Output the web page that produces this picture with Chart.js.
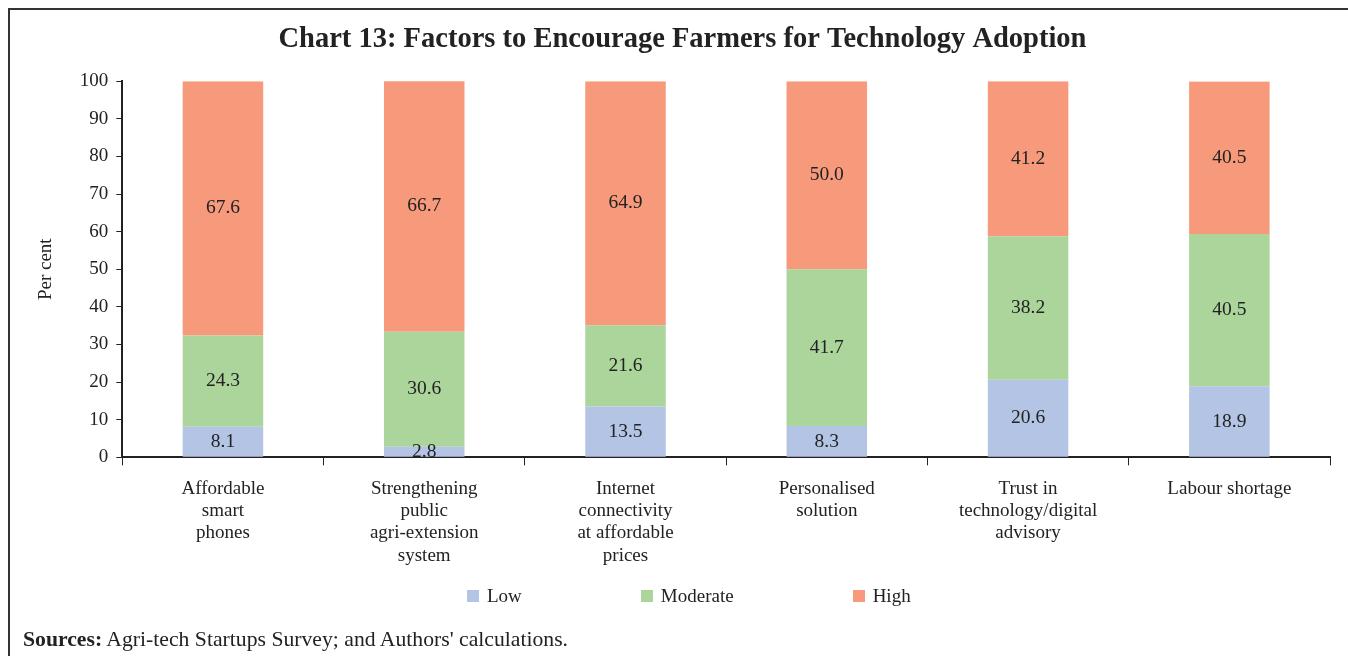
<!DOCTYPE html>
<html>
<head>
<meta charset="utf-8">
<script src="https://cdn.jsdelivr.net/npm/chart.js@4.4.1/dist/chart.umd.min.js"></script>
<style>
  html, body { margin: 0; padding: 0; background: #fff; }
  #frame { position: absolute; left: 8px; top: 8px; width: 1400px; height: 700px;
           border-left: 2px solid #333; border-top: 2px solid #333; }
  #wrap { position: absolute; left: 0; top: 0; width: 1348px; height: 656px; }
  #legend { position: absolute; left: 467px; top: 585px; display: flex;
            font: 19px "Liberation Serif", serif; color: #222; }
  #legend .item { display: flex; align-items: center; margin-right: 119px; }
  #legend .box { width: 12px; height: 12px; margin-right: 8px; }
  #src { position: absolute; left: 23px; top: 627px; font: 21.7px "Liberation Serif", serif; color: #222; }
</style>
</head>
<body>
<div id="frame"></div>
<div id="wrap"><canvas id="myChart" width="1348" height="656"></canvas></div>
<div id="legend"></div>
<div id="src"><b>Sources:</b> Agri-tech Startups Survey; and Authors' calculations.</div>
<script>
let categories = [
  ["Affordable", "smart", "phones"],
  ["Strengthening", "public", "agri-extension", "system"],
  ["Internet", "connectivity", "at affordable", "prices"],
  ["Personalised", "solution"],
  ["Trust in", "technology/digital", "advisory"],
  ["Labour shortage"],
];
let lowData = [8.1, 2.8, 13.5, 8.3, 20.6, 18.9];
let moderateData = [24.3, 30.6, 21.6, 41.7, 38.2, 40.5];
let highData = [67.6, 66.7, 64.9, 50.0, 41.2, 40.5];
let seriesNames = ["Low", "Moderate", "High"];
let seriesColors = ["#B4C4E4", "#ABD59B", "#F69A7B"];

const textColor = "#222";
const serif = "Liberation Serif";

// writes the value in the middle of each segment
const valueLabels = {
  id: "valueLabels",
  afterDatasetsDraw(chart) {
    const ctx = chart.ctx;
    ctx.save();
    ctx.font = '19.5px "' + serif + '"';
    ctx.fillStyle = textColor;
    ctx.textAlign = "center";
    ctx.textBaseline = "middle";
    chart.data.datasets.forEach((ds, i) => {
      chart.getDatasetMeta(i).data.forEach((bar, j) => {
        ctx.fillText(ds.data[j].toFixed(1), bar.x, (bar.y + bar.base) / 2);
      });
    });
    ctx.restore();
  },
};

let dataStats = {
  labels: categories,
  datasets: [lowData, moderateData, highData].map((d, i) => ({
    label: seriesNames[i],
    data: d,
    backgroundColor: seriesColors[i],
    borderWidth: 0,
    barPercentage: 0.4,
    categoryPercentage: 1,
  })),
};

let optionsOfStats = {
  responsive: false,
  animation: false,
  layout: { padding: { left: 35, right: 18, top: 0, bottom: 77 } },
  scales: {
    x: {
      stacked: true,
      grid: { offset: true, drawOnChartArea: false, drawTicks: true, tickLength: 8, color: textColor },
      border: { color: textColor, width: 2 },
      ticks: { color: textColor, padding: 12, maxRotation: 0, font: { family: serif, size: 19, lineHeight: 1.18 } },
    },
    y: {
      stacked: true,
      min: 0,
      max: 100,
      grid: { drawOnChartArea: false, drawTicks: true, tickLength: 6, color: textColor },
      border: { color: textColor, width: 2 },
      ticks: { stepSize: 10, color: textColor, padding: 8, font: { family: serif, size: 19 } },
      title: { display: true, text: "Per cent", color: textColor, padding: { top: 0, bottom: 14 }, font: { family: serif, size: 19 } },
    },
  },
  plugins: {
    legend: { display: false },
    tooltip: { enabled: false },
    title: {
      display: true,
      text: "Chart 13: Factors to Encourage Farmers for Technology Adoption",
      color: textColor,
      font: { family: serif, size: 28.5, weight: "bold" },
      padding: { top: 23, bottom: 24 },
    },
  },
};

function chartJs() {
  const ctx = document.getElementById("myChart");
  new Chart(ctx, { type: "bar", data: dataStats, options: optionsOfStats, plugins: [valueLabels] });
}

function buildLegend() {
  const box = document.getElementById("legend");
  seriesNames.forEach((name, i) => {
    const item = document.createElement("div");
    item.className = "item";
    item.innerHTML = '<span class="box" style="background:' + seriesColors[i] + '"></span><span>' + name + "</span>";
    box.appendChild(item);
  });
}

chartJs();
buildLegend();
</script>
</body>
</html>
